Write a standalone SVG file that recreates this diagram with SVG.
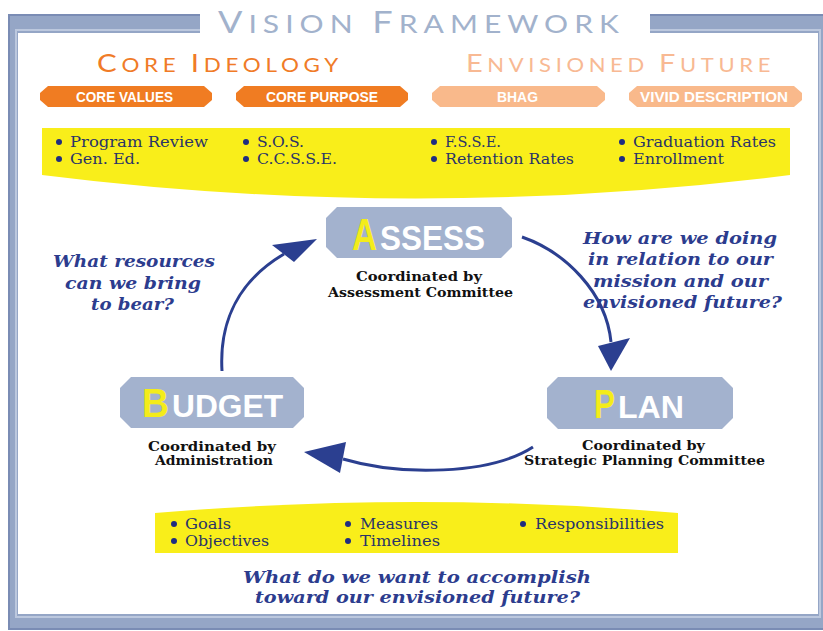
<svg xmlns="http://www.w3.org/2000/svg" width="823" height="631" viewBox="0 0 823 631">
  <style>
    .frame { fill: #95a6c6; }
    .frame-edge { fill: none; stroke: #7a8cb4; stroke-width: 2; }
    .frame-light { fill: none; stroke: #bcc8de; stroke-width: 2; }
    .heading { font-family: "Lato", "Liberation Sans", sans-serif; }
    .tag-text { font-family: "Liberation Sans Narrow", "Liberation Sans", sans-serif; font-weight: bold; fill: #ffffff; font-size: 14px; }
    .band { fill: #f9ee1a; }
    .dot { fill: #1f2d80; }
    .item { font-family: "DejaVu Serif", "Liberation Serif", serif; font-size: 14px; fill: #2a3468; }
    .question { font-family: "DejaVu Serif", "Liberation Serif", serif; font-weight: bold; font-style: italic; font-size: 17px; fill: #2c3c8e; }
    .box { fill: #a3b2ce; }
    .big { font-family: "Liberation Sans", "DejaVu Sans", sans-serif; font-weight: bold; }
    .initial { fill: #f4ec1a; }
    .rest { fill: #ffffff; }
    .coord { font-family: "DejaVu Serif", "Liberation Serif", serif; font-weight: bold; font-size: 13px; fill: #111111; }
    .arc { fill: none; stroke: #2b3f90; stroke-width: 3; }
    .head { fill: #2b3f90; }
  </style>

  <rect width="823" height="631" fill="#ffffff"/>

  <!-- outer frame -->
  <g id="frame">
    <path class="frame" d="M8,14 H200 V33 H18 V614 H818 V33 H650 V14 H823 V630 H8 Z"/>
    <path class="frame-light" d="M200,30 H16 V617 H820 V30 H650"/>
    <path class="frame-edge" d="M200,15 H9 V629 H823 M650,15 H823"/>
  </g>

  <!-- title -->
  <g id="title">
    <text class="heading" x="218" y="33" font-size="25" letter-spacing="5" fill="#a2b2cc" textLength="407" lengthAdjust="spacingAndGlyphs"><tspan font-size="30">V</tspan>ISION <tspan font-size="30">F</tspan>RAMEWORK</text>
  </g>

  <!-- section headings -->
  <g id="core-ideology">
    <text class="heading" x="97" y="72" font-size="19" letter-spacing="4" fill="#f07b27" textLength="246" lengthAdjust="spacingAndGlyphs"><tspan font-size="25">C</tspan>ORE <tspan font-size="25">I</tspan>DEOLOGY</text>
  </g>
  <g id="envisioned-future">
    <text class="heading" x="466" y="72" font-size="19" letter-spacing="4" fill="#f8b993" textLength="309" lengthAdjust="spacingAndGlyphs"><tspan font-size="25">E</tspan>NVISIONED <tspan font-size="25">F</tspan>UTURE</text>
  </g>

  <!-- tags -->
  <g id="tag-core-values">
    <path d="M48,86 H204 L212,93 V100 L204,107 H48 L40,100 V93 Z" fill="#f07c22"/>
    <text class="tag-text" x="76" y="102" textLength="97" lengthAdjust="spacingAndGlyphs">CORE VALUES</text>
  </g>
  <g id="tag-core-purpose">
    <path d="M244,86 H400 L408,93 V100 L400,107 H244 L236,100 V93 Z" fill="#f07c22"/>
    <text class="tag-text" x="266" y="102" textLength="112" lengthAdjust="spacingAndGlyphs">CORE PURPOSE</text>
  </g>
  <g id="tag-bhag">
    <path d="M440,86 H597 L605,93 V100 L597,107 H440 L432,100 V93 Z" fill="#f9b98b"/>
    <text class="tag-text" x="497" y="102" textLength="41" lengthAdjust="spacingAndGlyphs">BHAG</text>
  </g>
  <g id="tag-vivid-description">
    <path d="M637,86 H794 L802,93 V100 L794,107 H637 L629,100 V93 Z" fill="#f9b98b"/>
    <text class="tag-text" x="640" y="102" textLength="148" lengthAdjust="spacingAndGlyphs">VIVID DESCRIPTION</text>
  </g>

  <!-- measures band -->
  <g id="top-band">
    <path class="band" d="M42,128 H790 V175 Q416,222 42,175 Z"/>
    <circle class="dot" cx="59" cy="142" r="3"/>
    <text class="item" x="70" y="147" textLength="138" lengthAdjust="spacingAndGlyphs">Program Review</text>
    <circle class="dot" cx="59" cy="159" r="3"/>
    <text class="item" x="70" y="164" textLength="70" lengthAdjust="spacingAndGlyphs">Gen. Ed.</text>
    <circle class="dot" cx="246" cy="142" r="3"/>
    <text class="item" x="257" y="147" textLength="47" lengthAdjust="spacingAndGlyphs">S.O.S.</text>
    <circle class="dot" cx="246" cy="159" r="3"/>
    <text class="item" x="257" y="164" textLength="80" lengthAdjust="spacingAndGlyphs">C.C.S.S.E.</text>
    <circle class="dot" cx="434" cy="142" r="3"/>
    <text class="item" x="445" y="147" textLength="56" lengthAdjust="spacingAndGlyphs">F.S.S.E.</text>
    <circle class="dot" cx="434" cy="159" r="3"/>
    <text class="item" x="445" y="164" textLength="129" lengthAdjust="spacingAndGlyphs">Retention Rates</text>
    <circle class="dot" cx="622" cy="142" r="3"/>
    <text class="item" x="633" y="147" textLength="143" lengthAdjust="spacingAndGlyphs">Graduation Rates</text>
    <circle class="dot" cx="622" cy="159" r="3"/>
    <text class="item" x="633" y="164" textLength="91" lengthAdjust="spacingAndGlyphs">Enrollment</text>
  </g>

  <!-- cycle connectors -->
  <g id="connectors">
    <path class="arc" d="M522,237 C565,252 606,292 611,342"/>
    <polygon class="head" points="598,346 630,338 611,371"/>
    <path class="arc" d="M533,447 C490,475 400,476 343,459"/>
    <polygon class="head" points="346,442 340,473 304,452"/>
    <path class="arc" d="M222,371 C219,320 240,280 284,254"/>
    <polygon class="head" points="272,245 294,262 317,239"/>
  </g>

  <!-- assess -->
  <g id="assess">
    <path class="box" d="M337,207 H501 L512,218 V247 L501,258 H337 L326,247 V218 Z"/>
    <text class="big initial" x="352" y="250" font-size="44" textLength="25" lengthAdjust="spacingAndGlyphs">A</text>
    <text class="big rest" x="380" y="250" font-size="35" textLength="105" lengthAdjust="spacingAndGlyphs">SSESS</text>
    <text class="coord" x="356" y="281" textLength="126" lengthAdjust="spacingAndGlyphs">Coordinated by</text>
    <text class="coord" x="328" y="297" textLength="185" lengthAdjust="spacingAndGlyphs">Assessment Committee</text>
  </g>

  <!-- plan -->
  <g id="plan">
    <path class="box" d="M558,377 H722 L733,388 V418 L722,429 H558 L547,418 V388 Z"/>
    <text class="big initial" x="594" y="418" font-size="41" textLength="21" lengthAdjust="spacingAndGlyphs">P</text>
    <text class="big rest" x="618" y="418" font-size="31" textLength="66" lengthAdjust="spacingAndGlyphs">LAN</text>
    <text class="coord" x="582" y="450" textLength="123" lengthAdjust="spacingAndGlyphs">Coordinated by</text>
    <text class="coord" x="524" y="465" textLength="241" lengthAdjust="spacingAndGlyphs">Strategic Planning Committee</text>
  </g>

  <!-- budget -->
  <g id="budget">
    <path class="box" d="M131,377 H293 L304,388 V417 L293,428 H131 L120,417 V388 Z"/>
    <text class="big initial" x="142" y="417" font-size="41" textLength="27" lengthAdjust="spacingAndGlyphs">B</text>
    <text class="big rest" x="172" y="417" font-size="31" textLength="111" lengthAdjust="spacingAndGlyphs">UDGET</text>
    <text class="coord" x="148" y="451" textLength="128" lengthAdjust="spacingAndGlyphs">Coordinated by</text>
    <text class="coord" x="155" y="465" textLength="118" lengthAdjust="spacingAndGlyphs">Administration</text>
  </g>

  <!-- guiding questions -->
  <g id="question-resources">
    <text class="question" x="53" y="267" textLength="162" lengthAdjust="spacingAndGlyphs">What resources</text>
    <text class="question" x="65" y="289" textLength="136" lengthAdjust="spacingAndGlyphs">can we bring</text>
    <text class="question" x="91" y="310" textLength="83" lengthAdjust="spacingAndGlyphs">to bear?</text>
  </g>
  <g id="question-progress">
    <text class="question" x="583" y="244" textLength="194" lengthAdjust="spacingAndGlyphs">How are we doing</text>
    <text class="question" x="588" y="265" textLength="185" lengthAdjust="spacingAndGlyphs">in relation to our</text>
    <text class="question" x="593" y="287" textLength="175" lengthAdjust="spacingAndGlyphs">mission and our</text>
    <text class="question" x="583" y="308" textLength="199" lengthAdjust="spacingAndGlyphs">envisioned future?</text>
  </g>

  <!-- action band -->
  <g id="bottom-band">
    <path class="band" d="M155,513 Q416,491 678,513 V553 H155 Z"/>
    <circle class="dot" cx="174" cy="524" r="3"/>
    <text class="item" x="185" y="529" textLength="46" lengthAdjust="spacingAndGlyphs">Goals</text>
    <circle class="dot" cx="174" cy="541" r="3"/>
    <text class="item" x="185" y="546" textLength="84" lengthAdjust="spacingAndGlyphs">Objectives</text>
    <circle class="dot" cx="348" cy="524" r="3"/>
    <text class="item" x="360" y="529" textLength="78" lengthAdjust="spacingAndGlyphs">Measures</text>
    <circle class="dot" cx="348" cy="541" r="3"/>
    <text class="item" x="360" y="546" textLength="80" lengthAdjust="spacingAndGlyphs">Timelines</text>
    <circle class="dot" cx="523" cy="524" r="3"/>
    <text class="item" x="535" y="529" textLength="129" lengthAdjust="spacingAndGlyphs">Responsibilities</text>
  </g>

  <g id="question-accomplish">
    <text class="question" x="243" y="583" textLength="348" lengthAdjust="spacingAndGlyphs">What do we want to accomplish</text>
    <text class="question" x="255" y="603" textLength="325" lengthAdjust="spacingAndGlyphs">toward our envisioned future?</text>
  </g>
</svg>
